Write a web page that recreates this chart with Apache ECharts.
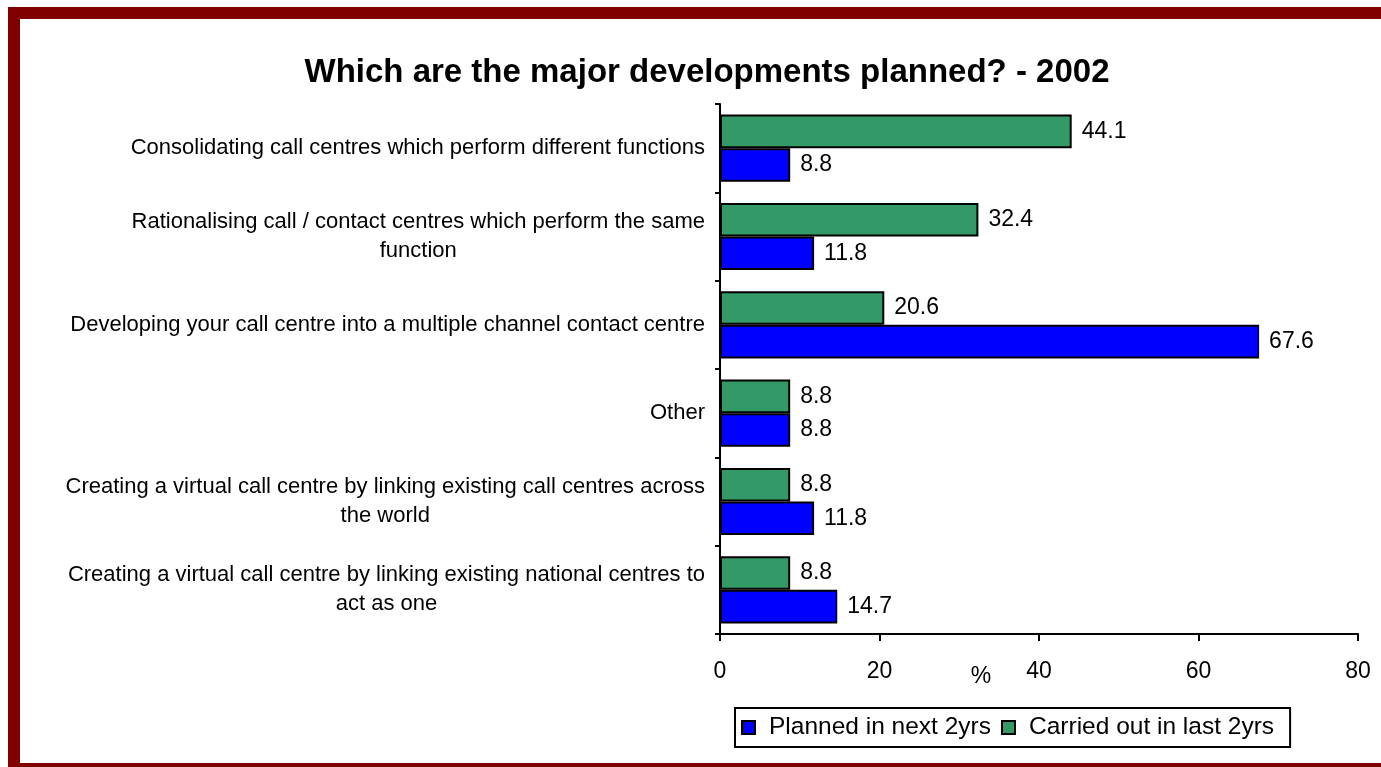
<!DOCTYPE html>
<html>
<head>
<meta charset="utf-8">
<script src="https://cdn.jsdelivr.net/npm/echarts@6/dist/echarts.min.js"></script>
<style>
html,body{margin:0;padding:0;background:#fff;}
#chart{width:1381px;height:767px;}
</style>
</head>
<body>
<div id="chart"></div>
<script>
var titleText = 'Which are the major developments planned? - 2002';
var axisUnit = '%';
var categories = [
  'Consolidating call centres which perform different functions',
  'Rationalising call / contact centres which perform the same\nfunction',
  'Developing your call centre into a multiple channel contact centre',
  'Other',
  'Creating a virtual call centre by linking existing call centres across\nthe world',
  'Creating a virtual call centre by linking existing national centres to\nact as one'
];
var seriesNames = ['Planned in next 2yrs', 'Carried out in last 2yrs'];
var planned = [8.8, 11.8, 67.6, 8.8, 11.8, 14.7];
var carried = [44.1, 32.4, 20.6, 8.8, 8.8, 8.8];
var xTicks = [0, 20, 40, 60, 80];

var FONT = '"Liberation Sans", Arial, sans-serif';
var chart = echarts.init(document.getElementById('chart'));
var labelCfg = {
  show: true, position: 'right', distance: 10,
  color: '#000', fontFamily: FONT, fontSize: 23,
  formatter: function (p) { return p.value.toFixed(1); }
};
chart.setOption({
  animation: false,
  backgroundColor: '#fff',
  title: [{
    text: titleText, left: 702, top: 51, textAlign: 'center',
    textStyle: { fontFamily: FONT, fontSize: 33, fontWeight: 'bold', color: '#000' }
  }, {
    text: axisUnit, left: 981, top: 665, textAlign: 'center', padding: 0,
    textStyle: { fontFamily: FONT, fontSize: 23, fontWeight: 'normal', color: '#000' }
  }],
  graphic: [{
    type: 'rect', silent: true, z: 100,
    shape: { x: 14, y: 13, width: 1400, height: 756 },
    style: { fill: 'none', stroke: '#800000', lineWidth: 12 }
  }],
  legend: {
    data: seriesNames,
    left: 735, top: 708,
    orient: 'horizontal',
    borderColor: '#000', borderWidth: 2,
    padding: [7, 16, 7, 6],
    itemWidth: 13, itemHeight: 13, itemGap: 10,
    textStyle: { fontFamily: FONT, fontSize: 24.5, color: '#000', padding: [0, 0, 0, 9] },
    icon: 'rect'
  },
  grid: { left: 720, right: 23, top: 104, bottom: 133, containLabel: false },
  xAxis: {
    type: 'value', min: xTicks[0], max: xTicks[xTicks.length - 1], interval: 20,
    axisLine: { show: true, lineStyle: { color: '#000', width: 2 } },
    axisTick: { show: true, length: 7, lineStyle: { color: '#000', width: 2 } },
    axisLabel: { fontFamily: FONT, fontSize: 23, color: '#000', margin: 26 },
    splitLine: { show: false }
  },
  yAxis: {
    type: 'category', data: categories, inverse: true,
    axisLine: { show: true, lineStyle: { color: '#000', width: 2 } },
    axisTick: { show: true, length: 5, inside: false, lineStyle: { color: '#000', width: 2 } },
    axisLabel: {
      margin: 15, align: 'right', color: '#000',
      fontFamily: FONT, fontSize: 22,
      formatter: function (v) {
        return v.split('\n').map(function (l) { return '{c|' + l + '}'; }).join('\n');
      },
      rich: { c: { align: 'center', fontFamily: FONT, fontSize: 22, color: '#000', lineHeight: 29 } }
    }
  },
  series: [
    {
      name: seriesNames[1], type: 'bar', data: carried,
      barCategoryGap: '24%', barGap: '0%',
      itemStyle: { color: '#339966', borderColor: '#000', borderWidth: 2 },
      label: labelCfg
    },
    {
      name: seriesNames[0], type: 'bar', data: planned,
      barCategoryGap: '24%', barGap: '0%',
      itemStyle: { color: '#0000FF', borderColor: '#000', borderWidth: 2 },
      label: labelCfg
    }
  ]
});
</script>
</body>
</html>
